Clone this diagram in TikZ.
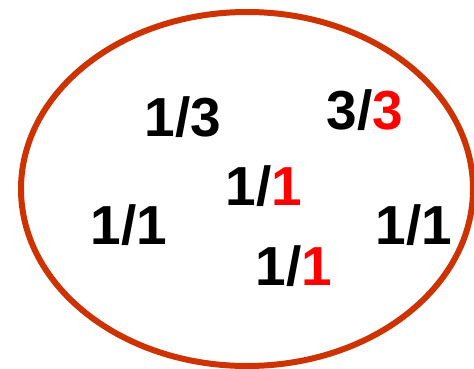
\documentclass[tikz,border=0pt]{standalone}
\usepackage{fontspec}
\setmainfont{Liberation Sans}
\definecolor{ring}{HTML}{CC3300}
\definecolor{hot}{HTML}{FF0000}
\tikzset{
  frac/.style={font=\fontsize{55}{55}\selectfont\bfseries, inner sep=0pt, anchor=center},
  ringline/.style={draw=ring, line width=6pt}
}
\begin{document}
\begin{tikzpicture}[x=1pt,y=-1pt]
\useasboundingbox (0,0) rectangle (474,369);
\draw[ringline] (247,189) ellipse [x radius=226, y radius=177];
\node[frac] (a) at (183,117) {1/3};
\node[frac] (b) at (365,110) {3/\textcolor{hot}{3}};
\node[frac] (c) at (264,186) {1/\textcolor{hot}{1}};
\node[frac] (d) at (129,225) {1/1};
\node[frac] (e) at (414,225) {1/1};
\node[frac] (f) at (294,266) {1/\textcolor{hot}{1}};
\end{tikzpicture}
\end{document}
